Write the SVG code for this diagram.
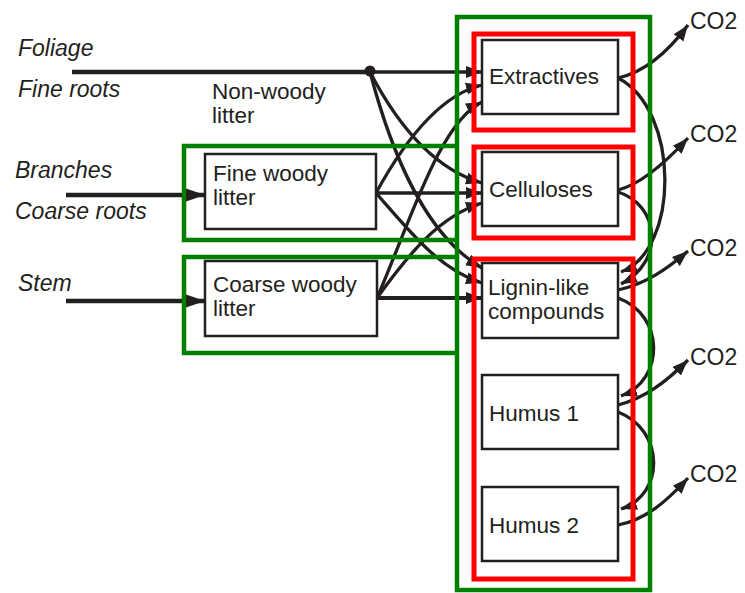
<svg xmlns="http://www.w3.org/2000/svg" width="745" height="593" viewBox="0 0 745 593">
  <style>
    .lbl { font-family: "Liberation Sans", Arial, sans-serif; font-size: 22.5px; fill: #231f20; }
    .src { font-family: "Liberation Sans", Arial, sans-serif; font-size: 23px; font-style: italic; fill: #231f20; }
    .co2 { font-family: "Liberation Sans", Arial, sans-serif; font-size: 23px; fill: #231f20; }
    .box { fill: #ffffff; stroke: #231f20; stroke-width: 2.5; }
    .flow { fill: none; stroke: #231f20; stroke-width: 3.3; }
    .input { fill: none; stroke: #231f20; stroke-width: 4.5; }
    .green { fill: none; stroke: #008000; stroke-width: 4.5; }
    .red { fill: none; stroke: #ff0000; stroke-width: 5; }
  </style>
  <defs>
    <marker id="arr" markerUnits="userSpaceOnUse" markerWidth="18" markerHeight="14" refX="16" refY="7" orient="auto">
      <path d="M0,1 L16,7 L0,13 Z" fill="#231f20"/>
    </marker>
    <marker id="arrBig" markerUnits="userSpaceOnUse" markerWidth="20" markerHeight="16" refX="19" refY="8" orient="auto">
      <path d="M0,1.5 L19,8 L0,14.5 Z" fill="#231f20"/>
    </marker>
  </defs>

  <rect width="745" height="593" fill="#ffffff"/>

  <!-- source labels -->
  <g id="sources">
    <text class="src" x="18" y="56">Foliage</text>
    <text class="src" x="18" y="97">Fine roots</text>
    <text class="src" x="15" y="178">Branches</text>
    <text class="src" x="15" y="219">Coarse roots</text>
    <text class="src" x="18" y="291">Stem</text>
  </g>

  <g id="connectors">
    <!-- litter inputs -->
    <line class="input" x1="72" y1="72" x2="370" y2="72"/>
    <line class="input" x1="66" y1="195" x2="205" y2="195" marker-end="url(#arrBig)"/>
    <line class="input" x1="66" y1="301" x2="205" y2="301" marker-end="url(#arrBig)"/>
    <circle cx="370" cy="71" r="5.5" fill="#231f20"/>

    <!-- non-woody litter split -->
    <path class="flow" d="M370,72 L482,72" marker-end="url(#arr)"/>
    <path class="flow" d="M370,72 C395,120 430,168 482,183" marker-end="url(#arr)"/>
    <path class="flow" d="M370,72 C388,140 420,232 482,268" marker-end="url(#arr)"/>

    <!-- fine woody litter split -->
    <path class="flow" d="M376,193 C405,140 440,95 482,85" marker-end="url(#arr)"/>
    <path class="flow" d="M376,193 L482,193" marker-end="url(#arr)"/>
    <path class="flow" d="M376,193 C410,232 440,270 482,283" marker-end="url(#arr)"/>

    <!-- coarse woody litter split -->
    <path class="flow" d="M377,298 C410,222 440,122 482,102" marker-end="url(#arr)"/>
    <path class="flow" d="M377,298 C410,252 440,216 482,203" marker-end="url(#arr)"/>
    <path class="flow" d="M377,298 L482,298" marker-end="url(#arr)" style="stroke-width:4"/>

    <!-- transfers between pools -->
    <path class="flow" d="M618,78 C680,110 680,250 621,272" marker-end="url(#arr)"/>
    <path class="flow" d="M618,192 C660,205 665,262 621,284" marker-end="url(#arr)"/>
    <path class="flow" d="M618,298 C665,315 665,380 621,396" marker-end="url(#arr)"/>
    <path class="flow" d="M618,412 C665,430 665,495 621,509" marker-end="url(#arr)"/>

    <!-- respiration -->
    <path class="flow" d="M618,78 C645,72 668,52 688,25" marker-end="url(#arr)"/>
    <path class="flow" d="M618,190 C642,184 666,162 688,138" marker-end="url(#arr)"/>
    <path class="flow" d="M618,290 C645,284 666,270 688,251" marker-end="url(#arr)"/>
    <path class="flow" d="M618,405 C645,398 666,382 688,360" marker-end="url(#arr)"/>
    <path class="flow" d="M618,525 C645,520 666,502 688,478" marker-end="url(#arr)"/>
  </g>

  <g id="non-woody-litter">
    <text class="lbl" x="212" y="99">Non-woody</text>
    <text class="lbl" x="212" y="123">litter</text>
  </g>

  <g id="fine-woody-litter">
    <rect class="box" x="205" y="154" width="171" height="75"/>
    <text class="lbl" x="213" y="181">Fine woody</text>
    <text class="lbl" x="213" y="205">litter</text>
  </g>

  <g id="coarse-woody-litter">
    <rect class="box" x="205" y="261" width="172" height="75"/>
    <text class="lbl" x="213" y="292">Coarse woody</text>
    <text class="lbl" x="213" y="316">litter</text>
  </g>

  <g id="extractives">
    <rect class="box" x="482" y="40" width="136" height="74"/>
    <text class="lbl" x="489" y="84">Extractives</text>
  </g>

  <g id="celluloses">
    <rect class="box" x="482" y="152" width="136" height="74"/>
    <text class="lbl" x="489" y="197">Celluloses</text>
  </g>

  <g id="lignin-like">
    <rect class="box" x="482" y="263" width="136" height="75"/>
    <text class="lbl" x="488" y="295">Lignin-like</text>
    <text class="lbl" x="488" y="319">compounds</text>
  </g>

  <g id="humus-1">
    <rect class="box" x="482" y="375" width="136" height="74"/>
    <text class="lbl" x="489" y="421">Humus 1</text>
  </g>

  <g id="humus-2">
    <rect class="box" x="482" y="487" width="136" height="74"/>
    <text class="lbl" x="489" y="533">Humus 2</text>
  </g>

  <g id="co2-labels">
    <text class="co2" x="690" y="29">CO2</text>
    <text class="co2" x="690" y="142">CO2</text>
    <text class="co2" x="690" y="256">CO2</text>
    <text class="co2" x="690" y="365">CO2</text>
    <text class="co2" x="690" y="482">CO2</text>
  </g>

  <!-- highlight frames -->
  <g id="frames">
    <rect class="green" x="457" y="17" width="193" height="573"/>
    <path class="green" d="M457,146 L184,146 L184,240 L457,240"/>
    <path class="green" d="M457,257 L184,257 L184,353 L457,353"/>
    <rect class="red" x="474" y="34" width="159" height="96"/>
    <rect class="red" x="474" y="147" width="159" height="91"/>
    <rect class="red" x="474" y="259" width="159" height="320"/>
  </g>
</svg>
